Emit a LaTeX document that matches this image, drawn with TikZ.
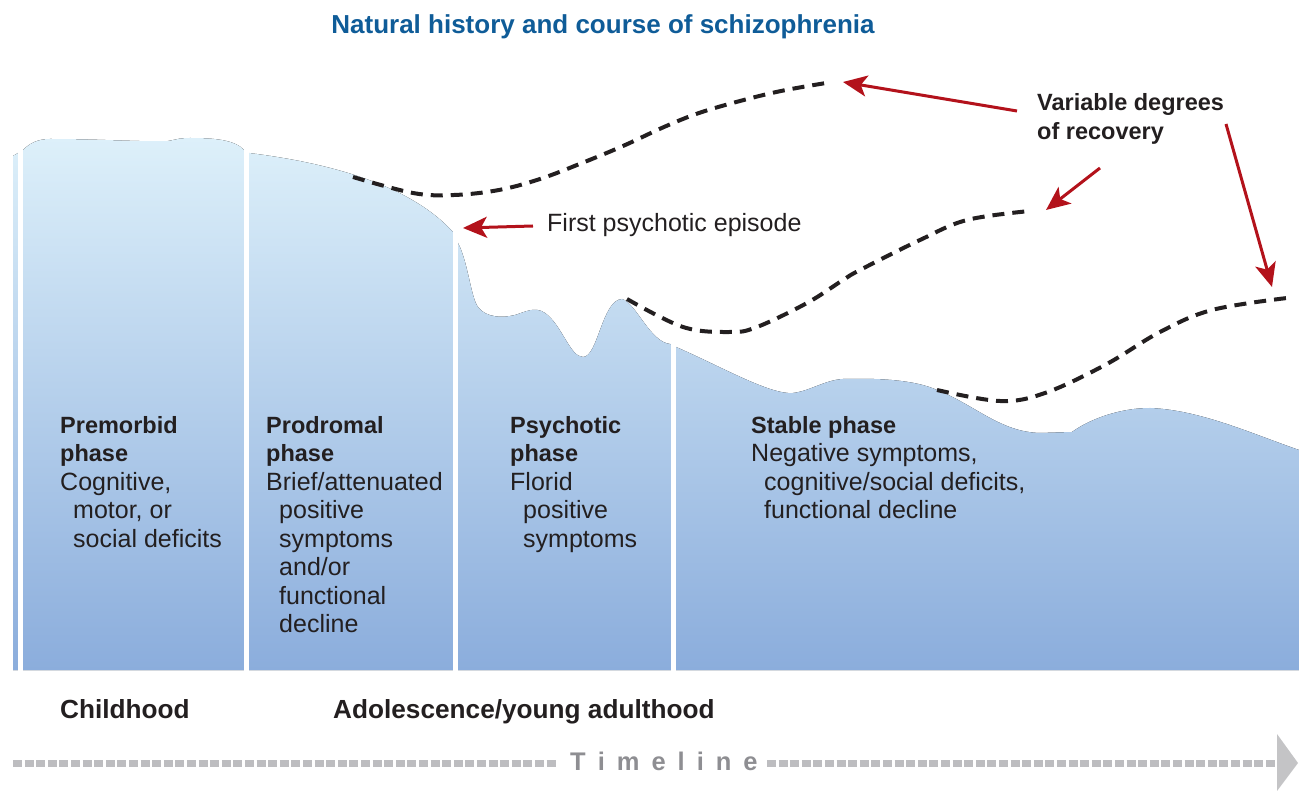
\documentclass[tikz,border=0pt]{standalone}
\usepackage{fontspec}
\setmainfont{Liberation Sans}
\usetikzlibrary{arrows.meta}
\definecolor{txt}{HTML}{231F20}
\definecolor{ttl}{HTML}{0F5C98}
\definecolor{redarr}{HTML}{B3121B}
\definecolor{btop}{HTML}{DDF0FA}
\definecolor{bbot}{HTML}{8BADDC}
\definecolor{tlgray}{HTML}{BDBDC0}
\definecolor{tltext}{HTML}{8E8E92}
\newcommand{\bhead}[1]{{\fontsize{23.5}{28.5}\selectfont\bfseries #1}}
\begin{document}
\begin{tikzpicture}[x=1pt,y=-1pt,
  bodytxt/.style={font=\fontsize{25}{28.5}\selectfont, text=txt, inner sep=0pt, anchor=base west, align=left},
  boldtxt/.style={font=\fontsize{26.2}{29}\selectfont\bfseries, text=txt, inner sep=0pt, anchor=base west, align=left},
  dashline/.style={draw=txt, line width=4pt, dash pattern=on 12pt off 8pt},
  redarrow/.style={draw=redarr, line width=3pt, -{Stealth[length=24pt,width=21pt,inset=6pt]}},
  tldash/.style={draw=tlgray, line width=7pt, dash pattern=on 9pt off 2.6pt},
  gap/.style={fill=white}
]
\useasboundingbox (0,0) rectangle (1299,791);

% blue area
\fill[top color=btop, bottom color=bbot]
  (13,670) -- (13,156) -- (23,150)
  .. controls (30,143) and (38,139) .. (50,139)
  .. controls (100,139) and (140,142) .. (168,141)
  .. controls (175,140) and (178,138) .. (190,138)
  .. controls (215,138) and (235,140) .. (244,150)
  -- (249,153)
  .. controls (330,163) and (410,185) .. (453,232)
  -- (458,243)
  .. controls (468,262) and (471,298) .. (478,307)
  .. controls (486,318) and (503,318) .. (515,315)
  .. controls (525,312) and (535,306) .. (545,313)
  .. controls (562,325) and (570,357) .. (583,357)
  .. controls (598,357) and (602,300) .. (622,299)
  .. controls (636,303) and (650,342) .. (670,344)
  -- (676,347)
  .. controls (720,366) and (770,395) .. (793,393)
  .. controls (810,391) and (825,380) .. (843,379)
  .. controls (880,378) and (915,380) .. (937,390)
  .. controls (975,405) and (1000,432) .. (1040,433)
  -- (1072,432)
  .. controls (1090,419) and (1120,408) .. (1150,408)
  .. controls (1200,410) and (1250,433) .. (1299,450)
  -- (1299,670) -- cycle;

% white separators
\fill[gap] (18,130) rectangle (23,672);
\fill[gap] (244,130) rectangle (249,672);
\fill[gap] (453,130) rectangle (458,672);
\fill[gap] (671,130) rectangle (676,672);

% dashed recovery curves
\draw[dashline] plot[smooth, tension=0.6] coordinates {(353,177) (413,193) (454,195) (499,190) (540,179) (582,163) (623,146) (664,127) (699,113) (740,101) (781,91) (826,83)};
\draw[dashline] plot[smooth, tension=0.6] coordinates {(627,299) (683,327) (730,332) (757,327) (807,303) (843,280) (860,270) (920,240) (967,220) (1030,211)};
\draw[dashline] plot[smooth, tension=0.6] coordinates {(937,390) (1000,401) (1045,393) (1105,365) (1160,332) (1212,310) (1287,298)};

% title
\node[font=\fontsize{26}{30}\selectfont\bfseries, text=ttl, inner sep=0pt, anchor=base] (title) at (603,34) {Natural history and course of schizophrenia};

% first psychotic episode
\node[bodytxt] (fpe) at (547,232) {First psychotic episode};
\coordinate (fpeTail) at (533,226);
\coordinate (fpeTip) at (463,228);
\draw[redarrow] (fpeTail) -- (fpeTip);

% variable degrees of recovery (base anchor = last line)
\node[font=\fontsize{23.5}{29}\selectfont\bfseries, text=txt, inner sep=0pt, anchor=base west, align=left] (vdr) at (1037,140) {Variable degrees\\of recovery};
\coordinate (a1t) at (1017,111);
\coordinate (a1h) at (843,82);
\coordinate (a2t) at (1100,168);
\coordinate (a2h) at (1046,210);
\coordinate (a3t) at (1226,124);
\coordinate (a3h) at (1272,287);
\draw[redarrow] (a1t) -- (a1h);
\draw[redarrow] (a2t) -- (a2h);
\draw[redarrow] (a3t) -- (a3h);

% phase labels (base anchor = last line baseline)
\node[bodytxt] (pre) at (60,547) {\bhead{Premorbid}\\\bhead{phase}\\Cognitive,\\\hspace*{13pt}motor, or\\\hspace*{13pt}social deficits};
\node[bodytxt] (pro) at (266,632.5) {\bhead{Prodromal}\\\bhead{phase}\\Brief/attenuated\\\hspace*{13pt}positive\\\hspace*{13pt}symptoms\\\hspace*{13pt}and/or\\\hspace*{13pt}functional\\\hspace*{13pt}decline};
\node[bodytxt] (psy) at (510,547) {\bhead{Psychotic}\\\bhead{phase}\\Florid\\\hspace*{13pt}positive\\\hspace*{13pt}symptoms};
\node[bodytxt] (sta) at (751,518.5) {\bhead{Stable phase}\\Negative symptoms,\\\hspace*{13pt}cognitive/social deficits,\\\hspace*{13pt}functional decline};

% life stages
\node[boldtxt] (child) at (60,718) {Childhood};
\node[boldtxt] (adol) at (333,718) {Adolescence/young adulthood};

% timeline
\node[font=\fontsize{25.5}{30}\selectfont\bfseries, text=tltext, inner sep=0pt, anchor=base west] (tl) at (570,770) {T\hspace{12pt}i\hspace{12pt}m\hspace{12pt}e\hspace{12pt}l\hspace{12pt}i\hspace{12pt}n\hspace{12pt}e};
\coordinate (tlL0) at (13,763);
\coordinate (tlL1) at (557,763);
\coordinate (tlR0) at (767,763);
\coordinate (tlR1) at (1276,763);
\draw[tldash] (tlL0) -- (tlL1);
\draw[tldash] (tlR0) -- (tlR1);
\fill[tlgray!90] (1277,734) -- (1298,763) -- (1277,791) -- cycle;
\end{tikzpicture}
\end{document}
